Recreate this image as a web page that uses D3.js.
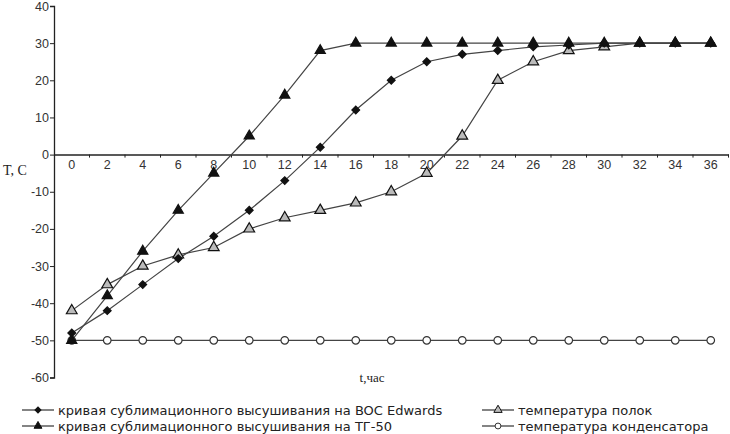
<!DOCTYPE html>
<html><head><meta charset="utf-8">
<script src="https://cdn.jsdelivr.net/npm/d3@7"></script>
<style>body{margin:0;background:#fff}svg{display:block}</style>
</head><body>
<svg id="c" width="730" height="434"></svg>
<script>
const hours = [0,2,4,6,8,10,12,14,16,18,20,22,24,26,28,30,32,34,36];
const bocEdwards = [-48,-42,-35,-28,-22,-15,-7,2,12,20,25,27,28,29,29.5,30,30,30,30];
const tg50 = [-50,-38,-26,-15,-5,5,16,28,30,30,30,30,30,30,30,30,30,30,30];
const shelfTemp = [-42,-35,-30,-27,-25,-20,-17,-15,-13,-10,-5,5,20,25,28,29,30,30,30];
const condenserTemp = [-50,-50,-50,-50,-50,-50,-50,-50,-50,-50,-50,-50,-50,-50,-50,-50,-50,-50,-50];
const yTicks = [40,30,20,10,0,-10,-20,-30,-40,-50,-60];
const seriesNames = ["кривая сублимационного высушивания на BOC Edwards","кривая сублимационного высушивания на ТГ-50","температура полок","температура конденсатора"];

const svg = d3.select("#c");
const x = d3.scaleBand().domain(hours).range([54, 728.5]).padding(0);
const y = d3.scaleLinear().domain([-60, 40]).range([377.5, 6]);
const cx = d => x(d) + x.bandwidth()/2;

// Y axis
const yAxis = svg.append("g").attr("transform","translate(54,0)")
  .call(d3.axisLeft(y).tickValues(yTicks).tickSize(4).tickFormat(d => String(d)));
yAxis.select(".domain").attr("stroke","#222").attr("stroke-width",1.3);
yAxis.selectAll(".tick line").attr("stroke","#222");
yAxis.selectAll("text").attr("font-family","Liberation Sans, Arial, sans-serif").attr("font-size",12.5).attr("fill","#333").attr("dx",2);

// X axis at y=0
const xAxis = svg.append("g").attr("transform",`translate(0,${y(0)})`)
  .call(d3.axisBottom(x).tickSize(0).tickSizeOuter(0));
xAxis.select(".domain").attr("stroke","#222").attr("stroke-width",1.5);
xAxis.selectAll("text").attr("font-family","Liberation Sans, Arial, sans-serif").attr("font-size",12.5).attr("fill","#333").attr("dy","0.9em");
// boundary tick marks
svg.append("g").selectAll("line").data(hours).join("line")
  .attr("x1",(d,i)=>54 + (i+1)*x.step()).attr("x2",(d,i)=>54 + (i+1)*x.step())
  .attr("y1",y(0)).attr("y2",y(0)+3).attr("stroke","#222");

// axis titles
svg.append("text").attr("x",3).attr("y",175).text("T, C")
  .attr("font-family","Liberation Serif, Times New Roman, serif").attr("font-size",14).attr("fill","#222");
svg.append("text").attr("x",372).attr("y",382).attr("text-anchor","middle").text("t,час")
  .attr("font-family","Liberation Serif, Times New Roman, serif").attr("font-size",13).attr("fill","#222");

const series = [
  {name: seriesNames[0], vals: bocEdwards, sym: d3.symbolSquare, rot: 45, size: 30, fill:"#111", stroke:"#111"},
  {name: seriesNames[1], vals: tg50, sym: d3.symbolTriangle, rot: 0, size: 45, fill:"#111", stroke:"#111"},
  {name: seriesNames[2], vals: shelfTemp, sym: d3.symbolTriangle, rot: 0, size: 50, fill:"#bbb", stroke:"#111"},
  {name: seriesNames[3], vals: condenserTemp, sym: d3.symbolCircle, rot: 0, size: 45, fill:"#fff", stroke:"#333"}
];
const line = d3.line().x((d,i)=>cx(hours[i])).y(d=>y(d));
series.slice().reverse().forEach(s=>{
  svg.append("path").attr("d", line(s.vals)).attr("fill","none").attr("stroke","#444").attr("stroke-width",1.2);
});
series.slice().reverse().forEach(s=>{
  svg.append("g").selectAll("path").data(s.vals).join("path")
    .attr("transform",(d,i)=>`translate(${cx(hours[i])},${y(d)}) rotate(${s.rot})`)
    .attr("d", d3.symbol().type(s.sym).size(s.size))
    .attr("fill", s.fill).attr("stroke", s.stroke).attr("stroke-width",1.2);
});

// legend
const legPos = [[22,410],[22,426],[482,410],[482,426]];
series.forEach((s,i)=>{
  const [lx,ly] = legPos[i];
  const g = svg.append("g").attr("transform",`translate(${lx},${ly})`);
  g.append("line").attr("x1",0).attr("x2",32).attr("y1",0).attr("y2",0).attr("stroke","#333").attr("stroke-width",1.2);
  g.append("path").attr("transform",`translate(16,0) rotate(${s.rot})`).attr("d", d3.symbol().type(s.sym).size(s.size*0.6))
    .attr("fill", s.fill).attr("stroke", s.stroke).attr("stroke-width",1);
  g.append("text").attr("x",36).attr("y",4.5).text(s.name)
    .attr("font-family","DejaVu Sans, sans-serif").attr("font-size",13).attr("fill","#222");
});
</script>
</body></html>
